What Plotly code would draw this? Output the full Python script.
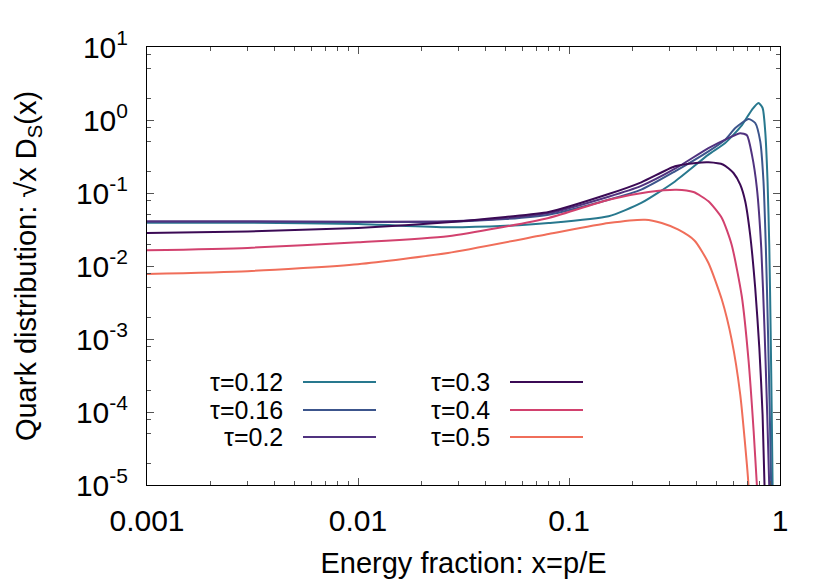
import plotly.graph_objects as go

# ---- data (log-log) ----
labels = ["τ=0.12", "τ=0.16", "τ=0.2", "τ=0.3", "τ=0.4", "τ=0.5"]

x_012 = [0.001, 0.003, 0.01, 0.0267, 0.05, 0.08, 0.154, 0.22, 0.318, 0.458, 0.55, 0.659, 0.736, 0.79, 0.827, 0.851, 0.873, 0.89, 0.903, 0.914, 0.925]
y_012 = [0.039, 0.0392, 0.0375, 0.0339, 0.0355, 0.0388, 0.048, 0.073, 0.144, 0.335, 0.484, 0.845, 1.38, 1.71, 1.46, 0.70, 0.145, 0.0177, 0.0013, 9e-5, 5e-6]

x_016 = [0.001, 0.003, 0.01, 0.0267, 0.05, 0.08, 0.154, 0.22, 0.318, 0.458, 0.55, 0.614, 0.71, 0.763, 0.806, 0.835, 0.857, 0.877, 0.895, 0.912]
y_016 = [0.040, 0.040, 0.040, 0.0405, 0.044, 0.0505, 0.0809, 0.111, 0.198, 0.372, 0.537, 0.776, 1.03, 0.91, 0.51, 0.145, 0.0177, 0.0013, 9e-5, 5e-6]

x_02 = [0.001, 0.003, 0.01, 0.0267, 0.05, 0.08, 0.154, 0.22, 0.318, 0.458, 0.57, 0.648, 0.697, 0.736, 0.777, 0.815, 0.845, 0.870, 0.895]
y_02 = [0.041, 0.041, 0.0405, 0.041, 0.045, 0.053, 0.0889, 0.125, 0.215, 0.413, 0.566, 0.66, 0.617, 0.335, 0.117, 0.0177, 0.00129, 9.1e-5, 5e-6]

x_03 = [0.001, 0.003, 0.01, 0.0267, 0.05, 0.08, 0.154, 0.22, 0.318, 0.40, 0.458, 0.539, 0.602, 0.648, 0.684, 0.722, 0.763, 0.798, 0.827, 0.85]
y_03 = [0.0283, 0.0298, 0.0332, 0.0397, 0.047, 0.055, 0.0968, 0.14, 0.232, 0.258, 0.263, 0.244, 0.188, 0.130, 0.0769, 0.0268, 0.005, 7.6e-4, 9.1e-5, 5e-6]

x_04 = [0.001, 0.003, 0.01, 0.0267, 0.08, 0.154, 0.238, 0.324, 0.389, 0.458, 0.53, 0.59, 0.659, 0.709, 0.75, 0.777, 0.79]
y_04 = [0.0164, 0.0177, 0.0211, 0.0255, 0.0455, 0.0809, 0.103, 0.111, 0.103, 0.0769, 0.0455, 0.0196, 0.00385, 5.2e-4, 5.5e-5, 1e-5, 5e-6]

x_05 = [0.001, 0.003, 0.01, 0.0267, 0.08, 0.154, 0.2297, 0.275, 0.33, 0.394, 0.458, 0.53, 0.59, 0.648, 0.705, 0.715]
y_05 = [0.0078, 0.0085, 0.0106, 0.0151, 0.0274, 0.0388, 0.0431, 0.0388, 0.0314, 0.0222, 0.011, 0.00347, 0.00098, 1.73e-4, 1.26e-5, 6e-6]

xs = [x_012, x_016, x_02, x_03, x_04, x_05]
ys = [y_012, y_016, y_02, y_03, y_04, y_05]
colors = ["#28788e", "#3c558c", "#50327f", "#3b0a55", "#d2416e", "#f06e5a"]

x_ticks = [0.001, 0.01, 0.1, 1]
x_ticktext = ["0.001", "0.01", "0.1", "1"]
y_ticks = [1e-5, 1e-4, 1e-3, 1e-2, 1e-1, 1, 10]
y_exponents = ["-5", "-4", "-3", "-2", "-1", "0", "1"]
y_ticktext = ["10<sup>%s</sup>" % e for e in y_exponents]
x_minor = [m * 10.0 ** k for k in (-3, -2, -1) for m in range(2, 10)]
y_minor = [m * 10.0 ** k for k in (-5, -4, -3, -2, -1, 0) for m in (2, 5, 8)]

FONT = "Liberation Sans, Arial, sans-serif"

fig = go.Figure()
for xv, yv, c, name in zip(xs, ys, colors, labels):
    fig.add_trace(go.Scatter(x=xv, y=yv, mode="lines", name=name,
                             line=dict(color=c, width=2, shape="spline", smoothing=0.6),
                             showlegend=False))

# custom legend (text right-aligned, line sample to the right)
W, H = 830, 581
L, R, T, B = 139, 772, 39, 477
def px(xp):
    return (xp - L) / (R - L)
def py(yp):
    return (B - yp) / (B - T)

col_text = [277, 484]
col_line = [(295, 368), (502, 575)]
row_y = [374, 402, 429]
for i, (name, c) in enumerate(zip(labels, colors)):
    col, row = divmod(i, 3)
    fig.add_annotation(x=px(col_text[col]), y=py(row_y[row]), xref="paper", yref="paper",
                       text=name, showarrow=False, xanchor="right", yanchor="middle",
                       font=dict(size=25, color="black", family=FONT))
    x0, x1 = col_line[col]
    fig.add_shape(type="line", xref="paper", yref="paper",
                  x0=px(x0), x1=px(x1), y0=py(row_y[row]), y1=py(row_y[row]),
                  line=dict(color=c, width=2))

axis_common = dict(type="log", showgrid=False, zeroline=False, showline=True,
                   linecolor="black", linewidth=1, mirror="ticks",
                   ticks="inside", ticklen=7, tickcolor="#555", tickwidth=1,
                   automargin=False,
                   tickfont=dict(size=30, color="black", family=FONT))

fig.update_xaxes(**axis_common, range=[-3, 0], tickmode="array",
                 tickvals=x_ticks, ticktext=x_ticktext, ticklabelstandoff=9,
                 minor=dict(tickmode="array", tickvals=x_minor, ticks="inside",
                            ticklen=4, tickcolor="#555", tickwidth=1, showgrid=False),
                 title=dict(text="Energy fraction: x=p/E", standoff=16,
                            font=dict(size=29, color="black", family=FONT)))
fig.update_yaxes(**axis_common, range=[-5, 1], tickmode="array",
                 tickvals=y_ticks, ticktext=y_ticktext, ticklabelstandoff=12,
                 minor=dict(tickmode="array", tickvals=y_minor, ticks="inside",
                            ticklen=4, tickcolor="#555", tickwidth=1, showgrid=False),
                 title=dict(text="Quark distribution: √x D<sub>S</sub>(x)", standoff=30,
                            font=dict(size=29, color="black", family=FONT)))

fig.update_layout(width=W, height=H, plot_bgcolor="white", paper_bgcolor="white",
                  margin=dict(l=L, r=W - R, t=T, b=H - B), showlegend=False)

fig.write_html("out.html")
